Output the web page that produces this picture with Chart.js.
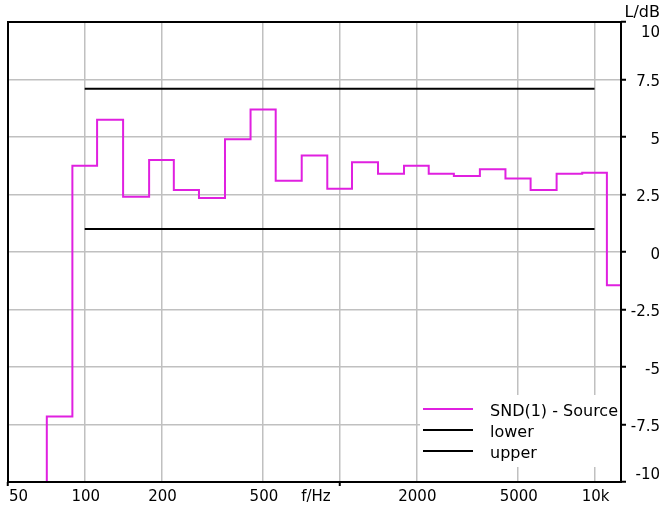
<!DOCTYPE html>
<html>
<head>
<meta charset="utf-8">
<script src="https://cdn.jsdelivr.net/npm/chart.js@4"></script>
<style>
    html, body { margin: 0; padding: 0; background: #fff; }
    #wrap { width: 665px; height: 506px; }
</style>
</head>
<body>
<div id="wrap"><canvas id="chart" width="665" height="506"></canvas></div>
<script>
// third-octave bands, level (63 Hz band sits below -10)
const BAND_HZ = [63, 80, 100, 125, 160, 200, 250, 315, 400, 500, 630, 800, 1000,
    1250, 1600, 2000, 2500, 3150, 4000, 5000, 6300, 8000, 10000, 12500];
const SOURCE_DB = [-11, -7.15, 3.75, 5.75, 2.4, 4.0, 2.7, 2.35, 4.9, 6.2, 3.1, 4.2, 2.75,
    3.9, 3.4, 3.75, 3.4, 3.3, 3.6, 3.2, 2.7, 3.4, 3.45, -1.45];

const LIMIT_HZ = [100, 10000];
const LOWER_DB = [1.0, 1.0];
const UPPER_DB = [7.1, 7.1];

const SERIES_LABELS = ['SND(1) - Source', 'lower', 'upper'];

const X_TICKS = [50, 100, 200, 500, 1000, 2000, 5000, 10000];
const X_LABELS = ['50', '100', '200', '500', 'f/Hz', '2000', '5000', '10k'];
const Y_TICKS = [10, 7.5, 5, 2.5, 0, -2.5, -5, -7.5, -10];
const Y_LABELS = ['10', '7.5', '5', '2.5', '0', '-2.5', '-5', '-7.5', '-10'];
const Y_TITLE = 'L/dB';

const FONT = '"DejaVu Sans", Verdana, sans-serif';
const MAGENTA = '#e020e0';
const GRID = '#c0c0c0';

const toPoints = (xs, ys) => xs.map((x, i) => ({x, y: ys[i]}));

// white legend box inside the plot, bottom right
const boxLegend = {
    id: 'boxLegend',
    beforeDatasetsDraw(chart) {
        const {ctx, chartArea: area} = chart;
        ctx.save();
        ctx.fillStyle = '#fff';
        ctx.fillRect(420, 395, area.right - 420, 72);
        ctx.restore();
    },
    afterDatasetsDraw(chart) {
        const {ctx, chartArea: area} = chart;
        ctx.save();
        ctx.font = `16px ${FONT}`;
        ctx.textBaseline = 'middle';
        ctx.textAlign = 'left';
        chart.data.datasets.forEach((ds, i) => {
            const y = 409 + i * 21;
            ctx.strokeStyle = ds.borderColor;
            ctx.lineWidth = 2;
            ctx.beginPath();
            ctx.moveTo(423, y);
            ctx.lineTo(473, y);
            ctx.stroke();
            ctx.fillStyle = '#000';
            ctx.fillText(ds.label, 490, y + 3);
        });
        // plot frame
        ctx.strokeStyle = '#000';
        ctx.lineWidth = 2;
        ctx.strokeRect(area.left, area.top, area.right - area.left, area.bottom - area.top);
        ctx.restore();
    },
};

// tick labels placed the way the original software does it
const axisText = {
    id: 'axisText',
    afterDraw(chart) {
        const {ctx, chartArea: area, scales: {x, y}} = chart;
        ctx.save();
        ctx.fillStyle = '#000';
        ctx.font = `15px ${FONT}`;
        ctx.textBaseline = 'middle';

        X_TICKS.forEach((v, i) => {
            const px = x.getPixelForValue(v);
            if (i === 0) {
                ctx.textAlign = 'left';
                ctx.fillText(X_LABELS[i], px + 1, 497);
            } else if (v === 1000) {
                ctx.textAlign = 'right';
                ctx.fillText(X_LABELS[i], px - 9, 497);
            } else {
                ctx.textAlign = 'center';
                ctx.fillText(X_LABELS[i], px + 1, 497);
            }
        });

        ctx.textAlign = 'right';
        Y_TICKS.forEach((v, i) => {
            const py = y.getPixelForValue(v) + 3;
            ctx.fillText(Y_LABELS[i], 660, Math.max(area.top + 11, Math.min(area.bottom - 7, py)));
        });

        ctx.font = `16px ${FONT}`;
        ctx.fillText(Y_TITLE, 660, 13);
        ctx.restore();
    },
};

new Chart(document.getElementById('chart'), {
    type: 'line',
    data: {
        datasets: [
            {
                label: SERIES_LABELS[0],
                data: toPoints(BAND_HZ, SOURCE_DB),
                borderColor: MAGENTA,
                borderWidth: 2,
                borderCapStyle: 'square',
                stepped: 'middle',
                pointRadius: 0,
            },
            {
                label: SERIES_LABELS[1],
                data: toPoints(LIMIT_HZ, LOWER_DB),
                borderColor: '#000',
                borderWidth: 2,
                pointRadius: 0,
            },
            {
                label: SERIES_LABELS[2],
                data: toPoints(LIMIT_HZ, UPPER_DB),
                borderColor: '#000',
                borderWidth: 2,
                pointRadius: 0,
            },
        ],
    },
    options: {
        responsive: false,
        animation: false,
        layout: { padding: { left: 8, top: 22, right: 0, bottom: 0 } },
        plugins: { legend: { display: false }, tooltip: { enabled: false } },
        scales: {
            x: {
                type: 'logarithmic',
                min: 50,
                max: 12700,
                afterBuildTicks: (s) => { s.ticks = X_TICKS.map((value) => ({value})); },
                afterFit: (s) => { s.height = 24; },
                grid: {
                    color: GRID,
                    lineWidth: 1.5,
                    tickLength: 4,
                    tickWidth: 2,
                    tickColor: (c) => (c.tick && (c.tick.value === 1000 || c.tick.value === 50)) ? '#000' : 'rgba(0,0,0,0)',
                },
                border: { display: false },
                ticks: { display: false },
            },
            y: {
                position: 'right',
                min: -10,
                max: 10,
                afterBuildTicks: (s) => { s.ticks = Y_TICKS.map((value) => ({value})); },
                afterFit: (s) => { s.width = 44; },
                grid: { color: GRID, lineWidth: 1.5, tickLength: 5, tickWidth: 2, tickColor: '#000' },
                border: { display: false },
                ticks: { display: false },
            },
        },
    },
    plugins: [boxLegend, axisText],
});
</script>
</body>
</html>
